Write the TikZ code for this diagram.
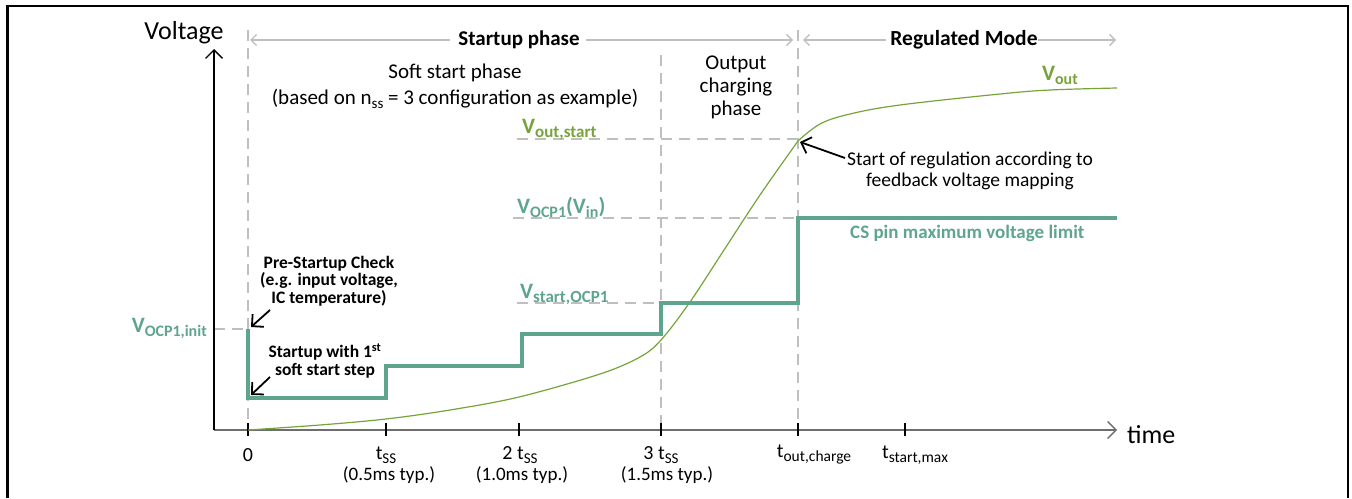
\documentclass[tikz,border=0pt]{standalone}
\usepackage{fontspec}
\setmainfont{Carlito}
\usetikzlibrary{arrows.meta}
\definecolor{tealc}{RGB}{95,165,142}
\definecolor{grnc}{RGB}{118,163,58}
\definecolor{dashg}{RGB}{191,191,191}
\definecolor{axg}{RGB}{110,110,110}
\newcommand\fsz[1]{\fontsize{#1}{#1}\selectfont}
\newcommand\lsub[2]{\raisebox{-0.2em}{\fsz{#1}#2}}
\begin{document}
\begin{tikzpicture}[x=1pt,y=-1pt,
  txt/.style={inner sep=0pt, text=black},
  guide/.style={dashg, line width=1.6pt, dash pattern=on 11pt off 7pt},
  phasearrow/.style={dashg, line width=1.3pt, -{Straight Barb[angle=90:8pt]}},
  annot/.style={black, line width=1.8pt, -{Straight Barb[angle=90:12pt]}},
  tickm/.style={black, line width=2.4pt},
  clab/.style={inner sep=0pt, font=\bfseries}]
\useasboundingbox (0,0) rectangle (1352,498);
% frame (open at the bottom)
\draw[line width=2.6pt] (7.5,498) -- (7.5,6) -- (1348,6) -- (1348,498);

% coordinates
\coordinate (O) at (214,430);
\coordinate (ytop) at (214,49);
\coordinate (xend) at (1117,430);
\coordinate (t0) at (248,430);
\coordinate (t1) at (386,430);
\coordinate (t2) at (519,430);
\coordinate (t3) at (661,430);
\coordinate (tc) at (798,430);
\coordinate (tm) at (905,430);

% dashed guides
\draw[guide] (248,30) -- (t0);
\draw[guide] (661,55) -- (t3);
\draw[guide] (798,30) -- (tc);
\draw[guide] (517,139) -- (798,139);
\draw[guide] (513,218) -- (798,218);
\draw[guide] (517,303) -- (661,303);
\draw[guide] (O |- 0,329) -- (248,329);

% axes
\draw[axg, line width=1.9pt, -{Straight Barb[angle=90:12pt, line width=1.3pt]}] (O) -- (xend);
\draw[black, line width=1.3pt, -{Straight Barb[angle=90:12pt]}] (O) -- (ytop);
\node[txt, font=\fsz{26}] (vlab) at (184,33) {Voltage};
\node[txt, font=\fsz{26}, anchor=west] (tlab) at (1127,435) {time};

% ticks
\foreach \n in {t0,t1,t2,t3,tc,tm}{
  \draw[tickm] ([yshift=-6pt]\n) -- ([yshift=7pt]\n);
}

% tick labels
\node[txt, font=\fsz{20}] (l0) at (248,455) {0};
\node[txt, font=\fsz{20}] (l1) at (386,455) {t\lsub{15}{SS}};
\node[txt, font=\fsz{19}] (l1b) at (389,475) {(0.5ms typ.)};
\node[txt, font=\fsz{20}] (l2) at (520,455) {2 t\lsub{15}{SS}};
\node[txt, font=\fsz{19}] (l2b) at (522,475) {(1.0ms typ.)};
\node[txt, font=\fsz{20}] (l3) at (661,455) {3 t\lsub{15}{SS}};
\node[txt, font=\fsz{19}] (l3b) at (667,475) {(1.5ms typ.)};
\node[txt, font=\fsz{20}] (lc) at (814,455) {t\lsub{15.5}{out,charge}};
\node[txt, font=\fsz{20}] (lm) at (915,455) {t\lsub{15.5}{start,max}};

% phase header arrows
\node[txt, font=\fsz{21}\bfseries] (sp) at (519,40) {Startup phase};
\node[txt, font=\fsz{21.5}\bfseries] (rm) at (964,40) {Regulated Mode};
\coordinate (a1) at (250,40);
\coordinate (a2) at (793,40);
\coordinate (a3) at (803,40);
\coordinate (a4) at (1116,40);
\draw[phasearrow] ([xshift=-8pt]sp.west) -- (a1);
\draw[phasearrow] ([xshift=6pt]sp.east) -- (a2);
\draw[phasearrow] ([xshift=-4pt]rm.west) -- (a3);
\draw[phasearrow] (rm.east) -- (a4);

% phase texts
\node[txt, font=\fsz{21}] (ss1) at (455,73) {Soft start phase};
\node[txt, font=\fsz{21}] (ss2) at (455,99) {(based on n\lsub{15}{ss} = 3 configuration as example)};
\node[txt, font=\fsz{21}, align=center] (ocp) at (736,87) {\fsz{21}Output\\[2pt]charging\\[2pt]phase};

% Vout curve
\draw[grnc, line width=1.2pt] plot[smooth, tension=0.55] coordinates {(248,430) (320,425) (386,419) (450,410) (519,397) (600,374) (640,357) (661,340) (690,302) (724,250) (760,195) (798,141)};
\draw[grnc, line width=1.2pt] plot[smooth, tension=0.6] coordinates {(798,141) (820,124) (850,114) (900,105) (1000,94) (1050,90) (1117,88)};

% OCP step curve
\draw[tealc, line width=3.2pt] (248,329) -- (248,398) -- (386,398) -- (386,366) -- (522,366) -- (522,334) -- (661,334) -- (661,303) -- (798,303) -- (798,218) -- (1117,218);

% coloured labels
\node[clab, text=grnc, anchor=base west] (vos) at (522,133) {\fsz{22}V\lsub{17}{out,start}};
\node[clab, text=tealc, anchor=base west] (vocp) at (517,213) {\fsz{22}V\lsub{16}{OCP1}(V\lsub{16}{in})};
\node[clab, text=tealc, anchor=base west] (vsocp) at (520,298) {\fsz{22}V\lsub{17}{start,OCP1}};
\node[clab, text=tealc, anchor=base east] (vinit) at (207,332) {\fsz{22}V\lsub{16}{OCP1,init}};
\node[clab, text=grnc, anchor=base east] (vout) at (1078,80) {\fsz{22}V\lsub{16}{out}};
\node[clab, text=tealc, font=\fsz{19}\bfseries, anchor=west] (cs) at (850,233) {CS pin maximum voltage limit};

% annotations
\node[txt, font=\fsz{17.5}\bfseries, align=center] (pre) at (329,281) {Pre-Startup Check\\[0pt](e.g. input voltage,\\[0pt]IC temperature)};
\node[txt, font=\fsz{17.5}\bfseries, align=center] (st1) at (325,361) {Startup with 1\textsuperscript{st}\\[1pt]soft start step};
\node[txt, font=\fsz{19.5}, align=center] (reg) at (970,171) {Start of regulation according to\\[2pt]feedback voltage mapping};
\coordinate (p1s) at (270,310);
\coordinate (p1e) at (251,327);
\coordinate (p2s) at (270,377);
\coordinate (p2e) at (251,395);
\coordinate (p3s) at (845,158);
\coordinate (p3e) at (800,142);
\draw[annot] (p1s) -- (p1e);
\draw[annot] (p2s) -- (p2e);
\draw[annot] (p3s) -- (p3e);
\end{tikzpicture}
\end{document}
